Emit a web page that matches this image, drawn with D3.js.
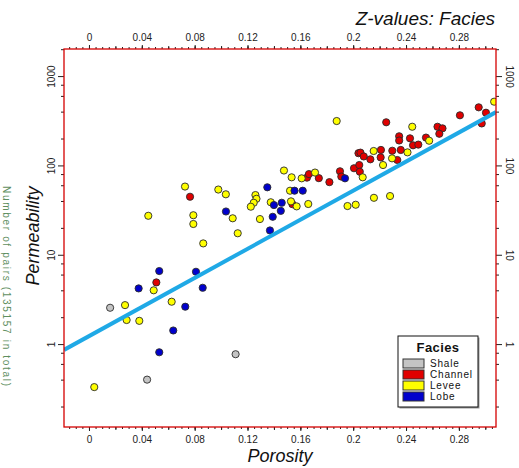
<!DOCTYPE html>
<html>
<head>
<meta charset="utf-8">
<script src="https://cdn.jsdelivr.net/npm/d3@7"></script>
<style>
  body { margin: 0; background: #fff; }
  svg { display: block; font-family: Arial, "Liberation Sans", sans-serif; }
</style>
</head>
<body>
<div id="chart"></div>
<script>
const w = 519;
const h = 468;

// facies categories and the points of each one: [porosity, permeability]
const facies = ['Shale', 'Channel', 'Levee', 'Lobe'];

const shale = [[0.016, 2.55], [0.044, 0.40], [0.111, 0.77]];

const channel = [
  [0.0765, 44.6], [0.051, 4.9], [0.154, 36.8], [0.165, 73], [0.1665, 80], [0.174, 72],
  [0.182, 65], [0.190, 86], [0.191, 75], [0.2006, 93], [0.204, 137], [0.2046, 101],
  [0.205, 85], [0.2055, 139], [0.208, 126], [0.213, 117], [0.221, 149], [0.2208, 123],
  [0.225, 304], [0.2296, 146], [0.2334, 115], [0.236, 149], [0.2348, 212], [0.2348, 190],
  [0.243, 201], [0.2453, 168], [0.2493, 171], [0.2551, 205], [0.2638, 271], [0.2676, 260],
  [0.2652, 226], [0.2808, 364], [0.295, 447], [0.3005, 389], [0.2973, 295]
];

const levee = [
  [0.004, 0.33], [0.0273, 2.73], [0.0285, 1.86], [0.0381, 1.82], [0.049, 4.0], [0.0626, 2.98],
  [0.0449, 27.3], [0.0727, 58], [0.079, 27.7], [0.079, 22.1], [0.0865, 13.4], [0.0979, 53.7],
  [0.1036, 47.5], [0.1088, 25.6], [0.1126, 17.4], [0.126, 46.6], [0.1268, 42.3], [0.1247, 38.2],
  [0.1225, 34.5], [0.1294, 25.1], [0.1376, 38.7], [0.1476, 87.7], [0.1534, 73.6], [0.1522, 52.1],
  [0.1529, 39.6], [0.1572, 34.8], [0.166, 37], [0.161, 71.7], [0.1711, 83.2], [0.1875, 314],
  [0.1957, 35.1], [0.2019, 36.3], [0.2072, 73.6], [0.2155, 145], [0.2226, 101], [0.2157, 43.4],
  [0.2279, 45.4], [0.2294, 120], [0.2411, 140], [0.2447, 271], [0.2575, 189], [0.3067, 517]
];

const lobe = [
  [0.1037, 30.5], [0.135, 56.9], [0.140, 36], [0.1459, 38.2], [0.1452, 31], [0.1391, 26.6],
  [0.137, 18.7], [0.1556, 52.1], [0.1618, 52.1], [0.1938, 71.7], [0.0532, 6.57], [0.081, 6.45],
  [0.0376, 4.2], [0.0861, 4.27], [0.0729, 2.62], [0.0638, 1.42], [0.0532, 0.81]
];

// regression line: log10(perm) = intercept + slope * porosity
const fitIntercept = 0.089;
const fitSlope = 8.14;

const xTickValues = [0, 0.04, 0.08, 0.12, 0.16, 0.2, 0.24, 0.28];
const yTickValues = [1, 10, 100, 1000];

const colors = {Shale: '#c4c4c4', Channel: '#e00000', Levee: '#ffff00', Lobe: '#0000cc'};
const seriesByFacies = {Shale: shale, Channel: channel, Levee: levee, Lobe: lobe};

const pLeft = 64, pRight = 496, pTop = 49, pBottom = 427;

const svg = d3.select('#chart')
  .append('svg')
  .attr('width', w)
  .attr('height', h)
  .style('background-color', 'white');

const xScale = d3.scaleLinear().domain([-0.0189, 0.3081]).range([pLeft, pRight]);
const yScale = d3.scaleLog().domain([0.118, 2010]).range([pBottom, pTop]);

svg.append('clipPath').attr('id', 'plot-clip')
  .append('rect')
  .attr('x', pLeft).attr('y', pTop)
  .attr('width', pRight - pLeft).attr('height', pBottom - pTop);

const plot = svg.append('g').attr('clip-path', 'url(#plot-clip)');

// points
const points = [];
facies.forEach(f => seriesByFacies[f].forEach(d => points.push({facies: f, phi: d[0], k: d[1]})));

plot.selectAll('circle')
  .data(points)
  .enter()
  .append('circle')
  .attr('cx', d => xScale(d.phi))
  .attr('cy', d => yScale(d.k))
  .attr('r', 3.6)
  .attr('fill', d => colors[d.facies])
  .attr('stroke', '#2a2a2a')
  .attr('stroke-width', 0.9);

// fit line across the x domain
const fitLine = xScale.domain().map(phi => [phi, Math.pow(10, fitIntercept + fitSlope * phi)]);
plot.append('path')
  .datum(fitLine)
  .attr('d', d3.line().x(d => xScale(d[0])).y(d => yScale(d[1])))
  .attr('stroke', '#1fa9e6')
  .attr('stroke-width', 4)
  .attr('fill', 'none');

// x axes (top + bottom): minor, medium, major ticks
const minorX = d3.range(-15, 306, 5).map(v => v / 1000);
const mediumX = minorX.filter(v => Math.abs(Math.round(v * 1000) % 20) === 0);

function styleAxis(g) {
  g.select('.domain').remove();
  g.selectAll('line').attr('stroke', '#222');
  g.selectAll('text').attr('fill', '#222').attr('font-size', '10px')
    .attr('font-family', 'Arial, "Liberation Sans", sans-serif');
}

[[d3.axisTop, pTop], [d3.axisBottom, pBottom]].forEach(([axisFn, y0]) => {
  svg.append('g').attr('transform', `translate(0, ${y0})`)
    .call(axisFn(xScale).tickValues(minorX).tickSize(2).tickFormat(''))
    .call(styleAxis);
  svg.append('g').attr('transform', `translate(0, ${y0})`)
    .call(axisFn(xScale).tickValues(mediumX).tickSize(3).tickFormat(''))
    .call(styleAxis);
  svg.append('g').attr('transform', `translate(0, ${y0})`)
    .call(axisFn(xScale).tickValues(xTickValues).tickSize(4).tickPadding(y0 === pTop ? 4 : 5).tickFormat(d3.format('')))
    .call(styleAxis);
});

// y axes (left + right), log minor ticks at 2,4,6,8
const minorY = [];
[0.1, 1, 10, 100, 1000].forEach(dec => [2, 4, 6, 8].forEach(m => {
  const v = dec * m;
  if (v > yScale.domain()[0] && v < yScale.domain()[1]) minorY.push(v);
}));

[[d3.axisLeft, pLeft, -9, -90], [d3.axisRight, pRight, 10, 90]].forEach(([axisFn, x0, off, rot]) => {
  svg.append('g').attr('transform', `translate(${x0}, 0)`)
    .call(axisFn(yScale).tickValues(minorY).tickSize(3).tickFormat(''))
    .call(styleAxis);
  svg.append('g').attr('transform', `translate(${x0}, 0)`)
    .call(axisFn(yScale).tickValues(yTickValues).tickSize(6).tickFormat(d3.format('')))
    .call(styleAxis)
    .selectAll('text')
    .attr('x', 0)
    .attr('dy', 0)
    .attr('text-anchor', 'middle')
    .attr('transform', `translate(${off}, 0) rotate(${rot})`);
});

// frame
svg.append('rect')
  .attr('x', pLeft).attr('y', pTop)
  .attr('width', pRight - pLeft).attr('height', pBottom - pTop)
  .attr('fill', 'none')
  .attr('stroke', '#d40000')
  .attr('stroke-width', 1.3);

// titles
svg.append('text')
  .attr('x', 495).attr('y', 25)
  .attr('text-anchor', 'end')
  .attr('font-size', '19px')
  .attr('font-style', 'italic')
  .attr('fill', '#111')
  .text('Z-values: Facies');

svg.append('text')
  .attr('x', 280).attr('y', 462)
  .attr('text-anchor', 'middle')
  .attr('font-size', '18px')
  .attr('font-style', 'italic')
  .attr('fill', '#111')
  .text('Porosity');

svg.append('text')
  .attr('transform', 'translate(39, 236) rotate(-90)')
  .attr('text-anchor', 'middle')
  .attr('font-size', '18px')
  .attr('font-style', 'italic')
  .attr('fill', '#111')
  .text('Permeability');

// side text along the left edge
svg.append('text')
  .attr('transform', 'translate(2.5, 186) rotate(90)')
  .attr('font-size', '10px')
  .attr('fill', '#5f8f5f')
  .attr('textLength', 200)
  .text('Number of pairs   (135157 in total)');

// legend
const legend = svg.append('g').attr('transform', 'translate(398, 336)');
legend.append('rect')
  .attr('x', 1.5).attr('y', 1.5)
  .attr('width', 80).attr('height', 71)
  .attr('fill', '#999');
legend.append('rect')
  .attr('width', 80).attr('height', 71)
  .attr('fill', 'white')
  .attr('stroke', '#111')
  .attr('stroke-width', 1);
legend.append('text')
  .attr('x', 40).attr('y', 16)
  .attr('text-anchor', 'middle')
  .attr('font-size', '13px')
  .attr('font-weight', 'bold')
  .attr('letter-spacing', '0.4px')
  .attr('fill', '#111')
  .text('Facies');

const rows = legend.selectAll('.legend-row')
  .data(facies)
  .enter()
  .append('g')
  .attr('class', 'legend-row')
  .attr('transform', (d, i) => `translate(5, ${23 + i * 11})`);

rows.append('rect')
  .attr('width', 21).attr('height', 9)
  .attr('fill', d => colors[d])
  .attr('stroke', '#333')
  .attr('stroke-width', 1);

rows.append('text')
  .attr('x', 27).attr('y', 8)
  .attr('font-size', '10px')
  .attr('letter-spacing', '0.8px')
  .attr('fill', '#111')
  .text(d => d);
</script>
</body>
</html>
